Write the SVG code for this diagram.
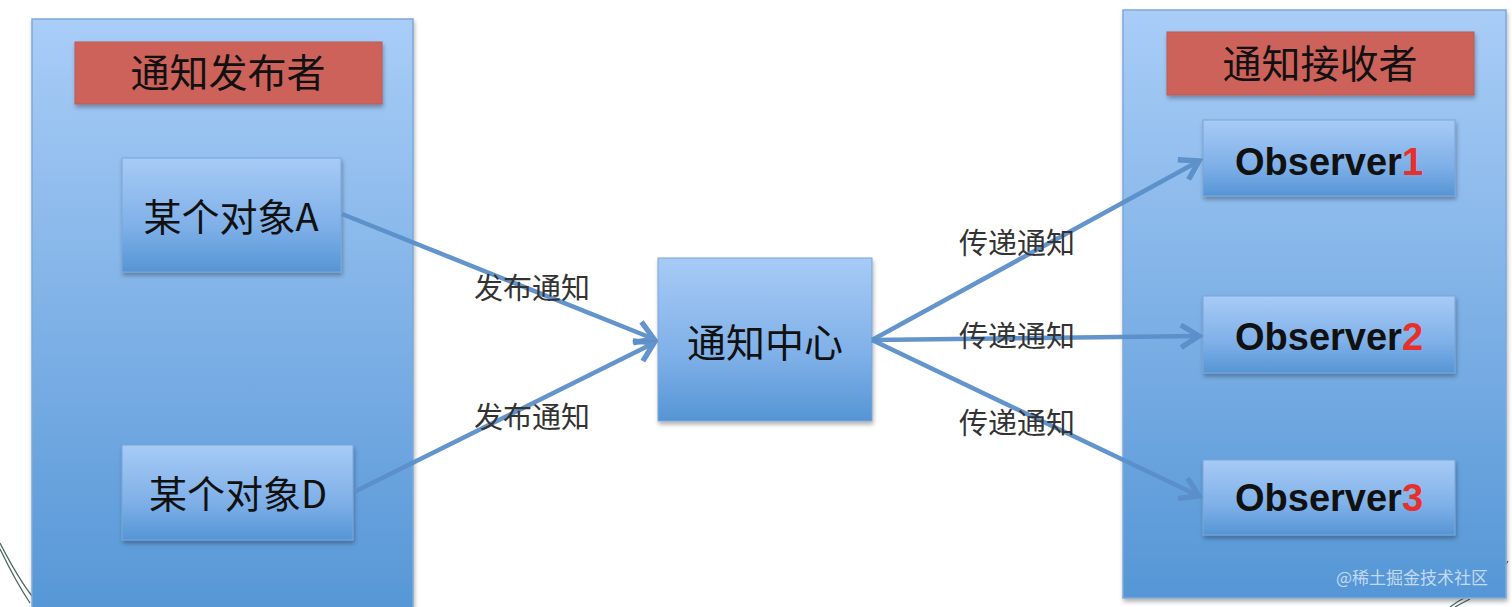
<svg xmlns="http://www.w3.org/2000/svg" width="1512" height="607" viewBox="0 0 1512 607">
<defs>
<linearGradient id="gBig" x1="0" y1="0" x2="0" y2="1">
<stop offset="0" stop-color="#a9cdf7"/>
<stop offset="1" stop-color="#5596d6"/>
</linearGradient>
<linearGradient id="gNode" x1="0" y1="0" x2="0" y2="1">
<stop offset="0" stop-color="#a7cbf6"/>
<stop offset="0.6" stop-color="#7fb0e8"/>
<stop offset="1" stop-color="#5595d5"/>
</linearGradient>
<filter id="sh" x="-10%" y="-10%" width="125%" height="130%">
<feDropShadow dx="1" dy="3" stdDeviation="2" flood-color="#000" flood-opacity="0.3"/>
</filter>
<marker id="ah" viewBox="0 0 12 12" refX="10" refY="6" markerWidth="6" markerHeight="6" markerUnits="strokeWidth" orient="auto">
<path d="M2,1 L10,6 L2,11" fill="none" stroke="#5b8fc9" stroke-width="2.4"/>
</marker>
<style>
.big{fill:url(#gBig);stroke:#7fa8d8;stroke-width:1.5}
.hdr{fill:#cd625a;stroke:#b85a55;stroke-width:1}
.node{fill:url(#gNode);stroke:#7aa5d8;stroke-width:1}
.cn{font-family:"Noto Sans CJK SC","Liberation Sans",sans-serif;fill:#111;text-anchor:middle}
.obs{font-family:"Liberation Sans",Arial,sans-serif;font-weight:bold;font-size:38px;fill:#111;text-anchor:middle}
.num{fill:#e8302a}
.lbl{font-family:"Noto Sans CJK SC","Liberation Serif",sans-serif;font-size:29px;fill:#333;text-anchor:middle}
.conn{stroke:#5b8fc9;stroke-width:4.5;fill:none;marker-end:url(#ah);opacity:0.95}
.deco{fill:none;stroke:#4f6b5f;stroke-width:1.3}
</style>
</defs>
<rect width="1512" height="607" fill="#ffffff"/>
<g id="decor">
<path class="deco" d="M0,543 Q18,578 32,596"/>
<path class="deco" d="M0,549 Q16,582 30,603"/>
<path class="deco" d="M1496,572 Q1500,566 1505,558"/>
<path class="deco" d="M1499,575 Q1503,569 1508,561"/>
<path class="deco" d="M1450,607 Q1458,601 1466,597"/>
<path class="deco" d="M1455,607 Q1462,603 1470,599"/>
</g>
<g id="publisher">
<rect class="big" x="32" y="19" width="381" height="600" filter="url(#sh)"/>
<g id="publisher-title">
<rect class="hdr" x="75" y="42" width="307" height="62" filter="url(#sh)"/>
<text class="cn" x="228" y="87" font-size="39">通知发布者</text>
</g>
</g>
<g id="receiver">
<rect class="big" x="1123" y="10" width="383" height="588" filter="url(#sh)"/>
<g id="receiver-title">
<rect class="hdr" x="1167" y="32" width="307" height="63" filter="url(#sh)"/>
<text class="cn" x="1320" y="78" font-size="39">通知接收者</text>
</g>
</g>
<g id="objA">
<rect class="node" x="122" y="158" width="219" height="114" filter="url(#sh)"/>
<text class="cn" x="231" y="231" font-size="38">某个对象A</text>
</g>
<g id="objD">
<rect class="node" x="122" y="445" width="231" height="95" filter="url(#sh)"/>
<text class="cn" x="238" y="508" font-size="38">某个对象D</text>
</g>
<g id="center">
<rect class="node" x="658" y="258" width="214" height="163" filter="url(#sh)"/>
<text class="cn" x="765" y="357" font-size="39">通知中心</text>
</g>
<g id="obs1">
<rect class="node" x="1203" y="120" width="252" height="76" filter="url(#sh)"/>
<text class="obs" x="1329" y="175">Observer<tspan class="num">1</tspan></text>
</g>
<g id="obs2">
<rect class="node" x="1203" y="296" width="252" height="77" filter="url(#sh)"/>
<text class="obs" x="1329" y="350">Observer<tspan class="num">2</tspan></text>
</g>
<g id="obs3">
<rect class="node" x="1203" y="460" width="252" height="75" filter="url(#sh)"/>
<text class="obs" x="1329" y="511">Observer<tspan class="num">3</tspan></text>
</g>
<g id="connectors">
<line class="conn" x1="342" y1="214" x2="654" y2="339"/>
<line class="conn" x1="354" y1="492" x2="654" y2="343"/>
<line class="conn" x1="872" y1="340" x2="1199" y2="161"/>
<line class="conn" x1="872" y1="340" x2="1199" y2="336"/>
<line class="conn" x1="872" y1="340" x2="1199" y2="496"/>
</g>
<g id="labels">
<text class="lbl" x="532" y="299">发布通知</text>
<text class="lbl" x="532" y="428">发布通知</text>
<text class="lbl" x="1017" y="254">传递通知</text>
<text class="lbl" x="1017" y="347">传递通知</text>
<text class="lbl" x="1017" y="434">传递通知</text>
</g>
<text x="1412" y="584" font-family="Noto Sans CJK SC,sans-serif" font-size="17" fill="#d8e6f5" fill-opacity="0.85" text-anchor="middle">@稀土掘金技术社区</text>
</svg>
